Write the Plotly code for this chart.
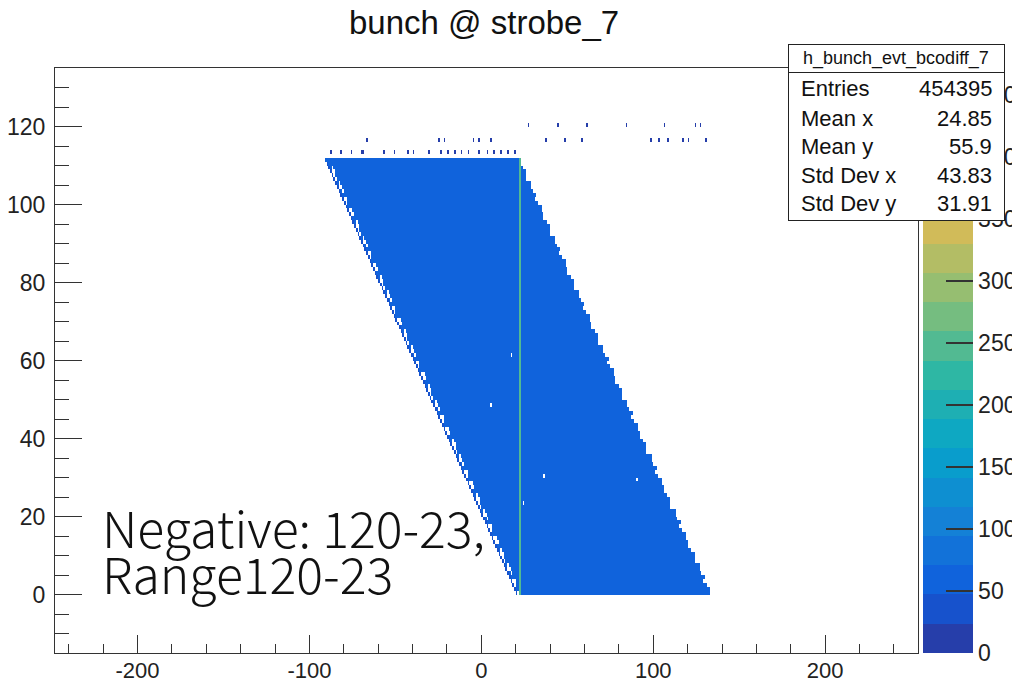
import numpy as np
import plotly.graph_objects as go

# ---------------- data ----------------
title_text = "bunch @ strobe_7"
hist_name = "h_bunch_evt_bcodiff_7"
stat_labels = ["Entries", "Mean x", "Mean y", "Std Dev x", "Std Dev y"]
stat_values = ["454395", "24.85", "55.9", "43.83", "31.91"]
note_lines = ["Negative: 120-23,", "Range120-23"]

x_range = [-248, 254]          # axis range (bin edges are integers)
y_range = [-15, 135]
z_max = 472                    # top of the colour scale

band_rows = 112                # filled rows y = 0 .. 111
band_left_at_y0 = 20           # left edge of the band in row 0
band_right_at_y0 = 133         # right edge (exclusive) in row 0
band_shift_per_row = -1        # the band moves one bin left per row
band_level = 62                # typical bin content in the band
edge_level = 30                # sparse left edge
edge_gap_pattern = [1, 0, 1, 1, 0, 0, 1, 0, 1, 1, 1, 0, 0, 1]
right_edge_jitter = [0, 1, 0, -1, 1, 0, 0, 1, -1, 0, 1, 0, -1, 0]

stripe_x = 22                  # bright column
stripe_level = 240

hole_x = [36, 90, 24, 5, 17]   # isolated empty bins inside the band
hole_y = [30, 29, 23, 48, 61]

sparse_row_113 = [-88, -82, -76, -70, -69, -57, -51, -43, -40, -31, -24, -20,
                  -16, -12, -8, -2, 3, 7, 11, 15, 19]
sparse_row_116 = [-67, -25, -22, -5, -2, 5, 37, 48, 58, 98, 103, 108, 117, 120, 130]
sparse_row_120 = [27, 44, 61, 84, 106, 124, 127]
sparse_level = 5

cbar_ticks = [0, 50, 100, 150, 200, 250, 300, 350, 400, 450]
x_tick_vals = [-200, -100, 0, 100, 200]
x_tick_text = ["-200", "-100", "0", "100", "200"]

# ---------------- build the 2D histogram ----------------
xc = np.arange(x_range[0], x_range[1]) + 0.5
yc = np.arange(y_range[0], y_range[1]) + 0.5
z = np.full((len(yc), len(xc)), np.nan)


def put(xb, yb, val):
    i = yb - y_range[0]
    j = xb - x_range[0]
    if 0 <= i < z.shape[0] and 0 <= j < z.shape[1]:
        z[i, j] = val


for k in range(band_rows):
    lo = band_left_at_y0 + band_shift_per_row * k
    hi = band_right_at_y0 + band_shift_per_row * k + right_edge_jitter[k % len(right_edge_jitter)]
    for xb in range(lo, hi):
        put(xb, k, band_level)
    if k < band_rows - 1:
        put(lo, k, edge_level)
        if edge_gap_pattern[k % len(edge_gap_pattern)]:
            put(lo + 1, k, np.nan)
        if edge_gap_pattern[(k + 3) % len(edge_gap_pattern)]:
            put(lo + 2, k, np.nan)
    put(stripe_x, k, stripe_level)

for hx, hy in zip(hole_x, hole_y):
    put(hx, hy, np.nan)
for xb in sparse_row_113:
    put(xb, 113, sparse_level)
for xb in sparse_row_116:
    put(xb, 116, sparse_level)
for xb in sparse_row_120:
    put(xb, 120, sparse_level)

# ---------------- ROOT kBird palette, 20 contour steps ----------------
stops = [0.0, 0.125, 0.25, 0.375, 0.5, 0.625, 0.75, 0.875, 1.0]
red = [0.2082, 0.0592, 0.0780, 0.0232, 0.1802, 0.5301, 0.8186, 0.9956, 0.9764]
green = [0.1664, 0.3599, 0.5041, 0.6419, 0.7178, 0.7492, 0.7328, 0.7862, 0.9832]
blue = [0.5293, 0.8684, 0.8385, 0.7914, 0.6425, 0.4662, 0.3499, 0.1968, 0.0539]


def bird(f):
    r = np.interp(f, stops, red)
    g = np.interp(f, stops, green)
    b = np.interp(f, stops, blue)
    return "rgb(%d,%d,%d)" % (round(r * 255), round(g * 255), round(b * 255))


n_steps = 20
colorscale = []
for i in range(n_steps):
    c = bird((i + 1) / n_steps)
    colorscale.append([i / n_steps, c])
    colorscale.append([(i + 1) / n_steps, c])

# ---------------- layout geometry ----------------
# screen pixels of the frame; the page adds an 8 px body margin
OFF = 8
W, H = 1020 - OFF, 685 - OFF
L, R, T, B = 55, 918, 68, 653
PW, PH = R - L, B - T


def px(xs):
    return (xs - L) / PW


def py(ys):
    return (B - ys) / PH


FONT = "Liberation Sans"

fig = go.Figure()
fig.add_trace(go.Heatmap(
    x=xc, y=yc, z=z,
    zmin=0, zmax=z_max,
    colorscale=colorscale,
    hoverongaps=False,
    colorbar=dict(
        x=px(923), xanchor="left", y=0, yanchor="bottom",
        len=1, lenmode="fraction", thickness=50, thicknessmode="pixels",
        xpad=0, ypad=0, outlinewidth=0,
        tickmode="array", tickvals=cbar_ticks,
        ticks="inside", ticklen=27, tickwidth=2, tickcolor="#333",
        tickfont=dict(family=FONT, size=23, color="#222"),
    ),
))

fig.update_xaxes(
    range=x_range, showgrid=False, zeroline=False,
    showline=True, linecolor="#333", linewidth=1, mirror=True,
    ticks="inside", ticklen=18, tickwidth=1, tickcolor="#333",
    tickmode="array", tickvals=x_tick_vals, ticktext=x_tick_text,
    tickfont=dict(family=FONT, size=22, color="#222"),
    ticklabelstandoff=-2,
    minor=dict(tickmode="linear", tick0=0, dtick=20, ticks="inside", ticklen=9,
               tickwidth=1, tickcolor="#333"),
)
fig.update_yaxes(
    range=y_range, showgrid=False, zeroline=False,
    showline=True, linecolor="#333", linewidth=1, mirror=True,
    ticks="inside", ticklen=27, tickwidth=1, tickcolor="#333",
    tickmode="linear", tick0=0, dtick=20,
    tickfont=dict(family=FONT, size=23, color="#222"),
    ticklabelstandoff=4,
    minor=dict(tickmode="linear", tick0=0, dtick=5, ticks="inside", ticklen=14,
               tickwidth=1, tickcolor="#333"),
)

annotations = []
# title
annotations.append(dict(
    text=title_text, x=px(484), y=py(22), xref="paper", yref="paper",
    xanchor="center", yanchor="middle", showarrow=False,
    font=dict(family=FONT, size=33, color="#111"),
))
# stats box: header and body boxes
box_l, box_r, box_t, box_sep, box_b = 788, 1004, 44, 72, 220
annotations.append(dict(
    text=" ", x=px(box_l), y=py(box_t), xref="paper", yref="paper",
    xanchor="left", yanchor="top", showarrow=False,
    width=box_r - box_l - 1, height=box_sep - box_t - 1, borderpad=0,
    bgcolor="white", bordercolor="#222", borderwidth=1,
))
annotations.append(dict(
    text=" ", x=px(box_l), y=py(box_sep), xref="paper", yref="paper",
    xanchor="left", yanchor="top", showarrow=False,
    width=box_r - box_l - 1, height=box_b - box_sep - 1, borderpad=0,
    bgcolor="white", bordercolor="#222", borderwidth=1,
))
annotations.append(dict(
    text=hist_name, x=px((box_l + box_r) / 2), y=py(58), xref="paper", yref="paper",
    xanchor="center", yanchor="middle", showarrow=False,
    font=dict(family=FONT, size=18, color="#111"),
))
row_y = [89, 118, 146, 175, 204]
for lab, val, yy in zip(stat_labels, stat_values, row_y):
    annotations.append(dict(
        text=lab, x=px(799), y=py(yy), xref="paper", yref="paper",
        xanchor="left", yanchor="middle", showarrow=False,
        font=dict(family=FONT, size=22, color="#111"),
    ))
    annotations.append(dict(
        text=val, x=px(994), y=py(yy), xref="paper", yref="paper",
        xanchor="right", yanchor="middle", showarrow=False,
        font=dict(family=FONT, size=22, color="#111"),
    ))
# overlay note
for line, yy in zip(note_lines, [526, 572]):
    annotations.append(dict(
        text=line, x=px(100), y=py(yy), xref="paper", yref="paper",
        xanchor="left", yanchor="middle", showarrow=False,
        font=dict(family="Noto Sans CJK JP", size=50, color="#111", weight=300),
    ))

fig.update_layout(
    width=W, height=H,
    margin=dict(l=L - OFF, r=W - (R - OFF), t=T - OFF, b=H - (B - OFF), autoexpand=False),
    paper_bgcolor="white", plot_bgcolor="white",
    annotations=annotations,
    showlegend=False,
)

fig.write_html("out.html")
